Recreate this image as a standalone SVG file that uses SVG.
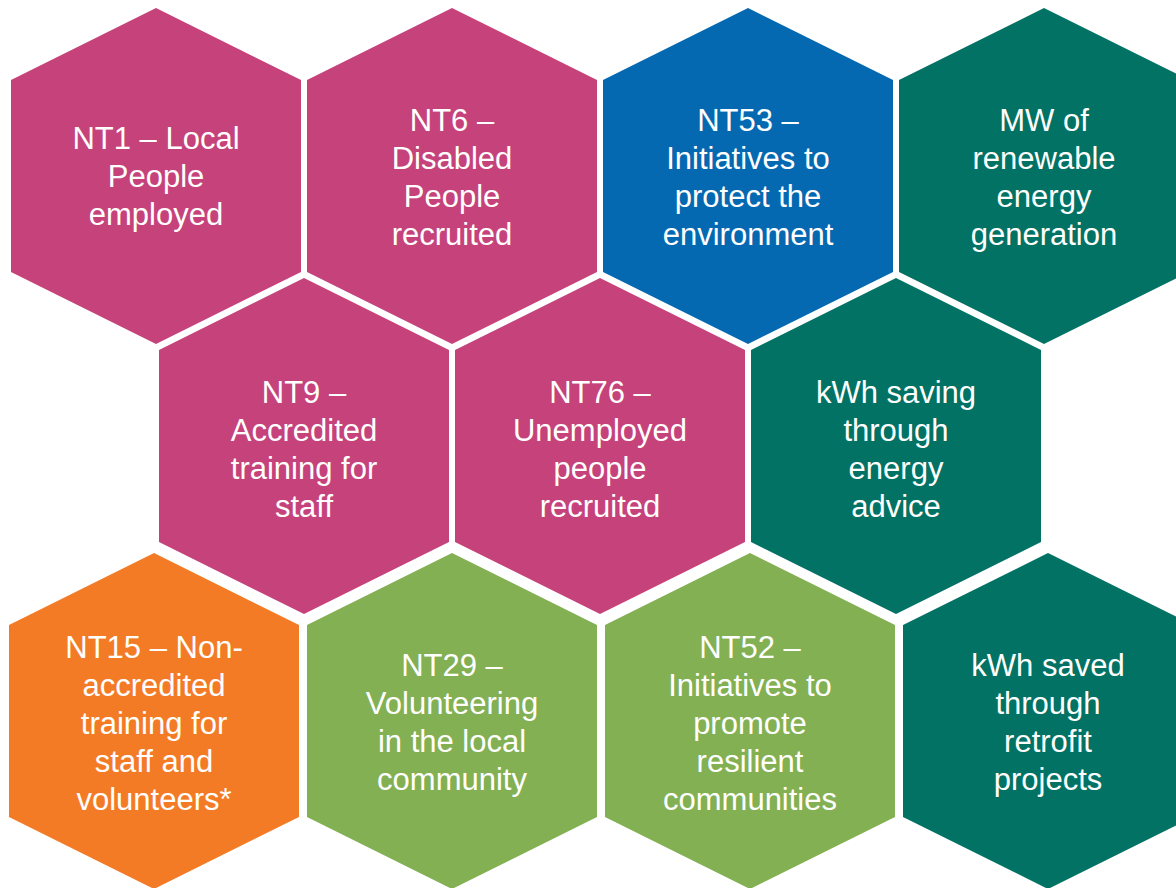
<svg xmlns="http://www.w3.org/2000/svg" width="1176" height="888" viewBox="0 0 1176 888">
<style>
.pink{fill:#C6427A}.blue{fill:#0569B2}.teal{fill:#027264}.orange{fill:#F47B26}.green{fill:#83B052}
text{font-family:"Liberation Sans",Arial,sans-serif;font-size:31px;fill:#ffffff;text-anchor:middle}
</style>
<rect width="1176" height="888" fill="#ffffff"/>
<defs>
<polygon id="hx" points="0,-168 145,-96 145,96 0,168 -145,96 -145,-96"/>
</defs>
<g id="nt1"><use href="#hx" class="pink" x="156" y="176"/><text x="156" y="149">NT1 – Local</text><text x="156" y="187">People</text><text x="156" y="225">employed</text></g>
<g id="nt6"><use href="#hx" class="pink" x="452" y="176"/><text x="452" y="131">NT6 –</text><text x="452" y="169">Disabled</text><text x="452" y="207">People</text><text x="452" y="245">recruited</text></g>
<g id="nt53"><use href="#hx" class="blue" x="748" y="176"/><text x="748" y="131">NT53 –</text><text x="748" y="169">Initiatives to</text><text x="748" y="207">protect the</text><text x="748" y="245">environment</text></g>
<g id="mw"><use href="#hx" class="teal" x="1044" y="176"/><text x="1044" y="131">MW of</text><text x="1044" y="169">renewable</text><text x="1044" y="207">energy</text><text x="1044" y="245">generation</text></g>
<g id="nt9"><use href="#hx" class="pink" x="304" y="446"/><text x="304" y="403">NT9 –</text><text x="304" y="441">Accredited</text><text x="304" y="479">training for</text><text x="304" y="517">staff</text></g>
<g id="nt76"><use href="#hx" class="pink" x="600" y="446"/><text x="600" y="403">NT76 –</text><text x="600" y="441">Unemployed</text><text x="600" y="479">people</text><text x="600" y="517">recruited</text></g>
<g id="kwh-advice"><use href="#hx" class="teal" x="896" y="446"/><text x="896" y="403">kWh saving</text><text x="896" y="441">through</text><text x="896" y="479">energy</text><text x="896" y="517">advice</text></g>
<g id="nt15"><use href="#hx" class="orange" x="154" y="721"/><text x="154" y="658">NT15 – Non-</text><text x="154" y="696">accredited</text><text x="154" y="734">training for</text><text x="154" y="772">staff and</text><text x="154" y="810">volunteers*</text></g>
<g id="nt29"><use href="#hx" class="green" x="452" y="721"/><text x="452" y="676">NT29 –</text><text x="452" y="714">Volunteering</text><text x="452" y="752">in the local</text><text x="452" y="790">community</text></g>
<g id="nt52"><use href="#hx" class="green" x="750" y="721"/><text x="750" y="658">NT52 –</text><text x="750" y="696">Initiatives to</text><text x="750" y="734">promote</text><text x="750" y="772">resilient</text><text x="750" y="810">communities</text></g>
<g id="kwh-retrofit"><use href="#hx" class="teal" x="1048" y="721"/><text x="1048" y="676">kWh saved</text><text x="1048" y="714">through</text><text x="1048" y="752">retrofit</text><text x="1048" y="790">projects</text></g>
<g id="connectors"></g>
</svg>
